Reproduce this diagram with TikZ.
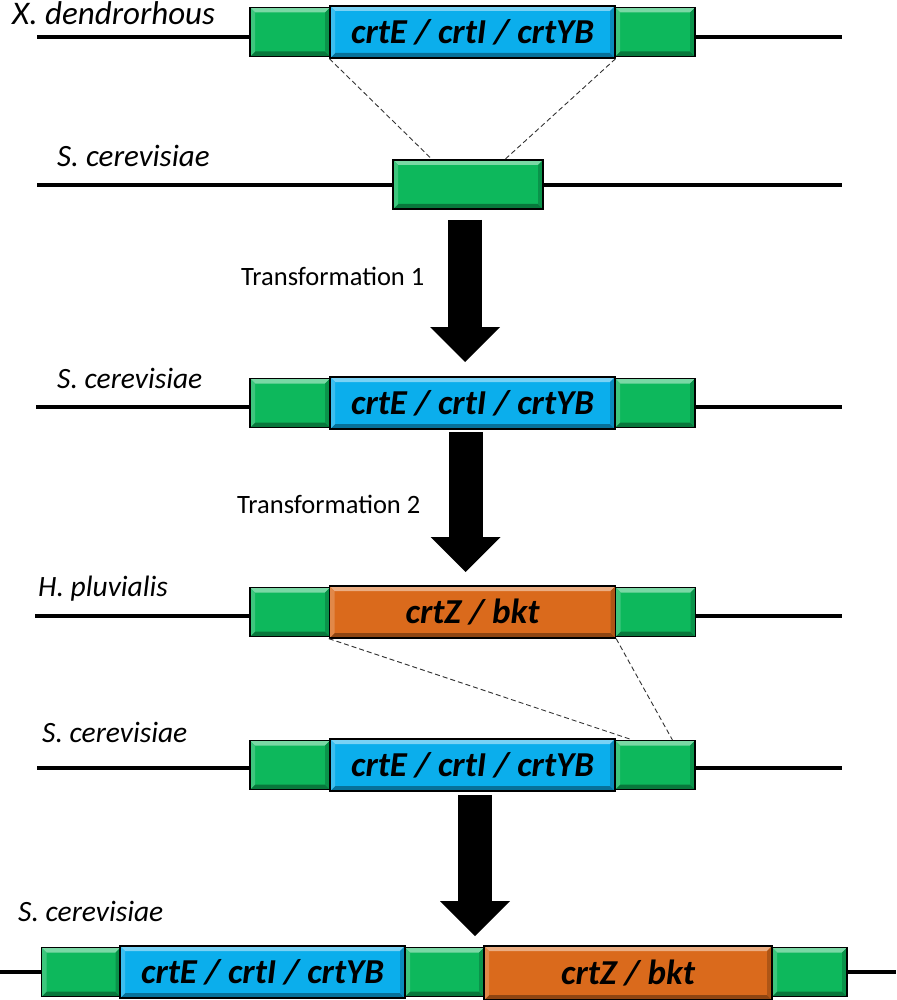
\documentclass[tikz,border=0pt]{standalone}
\usepackage{fontspec}
\setmainfont{Carlito}
\usetikzlibrary{arrows.meta}

\definecolor{armgreen}{HTML}{0DB85C}
\definecolor{crtblue}{HTML}{0BAEEC}
\definecolor{bktorange}{HTML}{DA6A1C}

\begin{document}
\begin{tikzpicture}[x=1pt, y=-1pt,
    box/.style={draw=black, line width=1.3pt, fill=#1, inner sep=0pt, minimum height=49pt,
      path picture={
        \fill[#1!55!white] (path picture bounding box.north west) -- (path picture bounding box.north east)
          -- ([shift={(-5pt,-5pt)}]path picture bounding box.north east) -- ([shift={(5pt,-5pt)}]path picture bounding box.north west) -- cycle;
        \fill[#1!65!black] (path picture bounding box.south west) -- (path picture bounding box.south east)
          -- ([shift={(-5pt,5pt)}]path picture bounding box.south east) -- ([shift={(5pt,5pt)}]path picture bounding box.south west) -- cycle;
        \fill[#1!80!black] (path picture bounding box.north east) -- (path picture bounding box.south east)
          -- ([shift={(-5pt,5pt)}]path picture bounding box.south east) -- ([shift={(-5pt,-5pt)}]path picture bounding box.north east) -- cycle;
        \fill[#1!80!white] (path picture bounding box.north west) -- (path picture bounding box.south west)
          -- ([shift={(5pt,5pt)}]path picture bounding box.south west) -- ([shift={(5pt,-5pt)}]path picture bounding box.north west) -- cycle;
      }},
    arm/.style={box=armgreen, minimum width=80pt},
    gene/.style={box=#1, minimum height=52pt, font=\fontsize{35}{40}\selectfont\bfseries\itshape},
    species/.style={anchor=base west, inner sep=0pt, font=\fontsize{29.5}{34}\selectfont\itshape},
    steplabel/.style={anchor=base west, inner sep=0pt, font=\fontsize{26.5}{30}\selectfont},
    chrom/.style={line width=3.5pt},
    homol/.style={line width=0.9pt, black!80, dash pattern=on 5pt off 3pt},
    bigarrow/.style={line width=34pt, -{Triangle[width=70pt, length=35pt, line width=0pt]}}
  ]
  \useasboundingbox (0,0) rectangle (896,1000);

  % X. dendrorhous
  \node[species, font=\fontsize{33}{38}\selectfont\itshape] (xdName) at (12,25) {X. dendrorhous};
  \coordinate (xdA) at (37,37);
  \coordinate (xdB) at (842,37);
  \draw[chrom] (xdA) -- (xdB);
  \node[arm] (xdL) at (290,32) {};
  \node[gene=crtblue, minimum width=285pt] (xdCrt) at (472.5,32) {crtE / crtI / crtYB};
  \node[arm] (xdR) at (655,32) {};

  % S. cerevisiae, target site
  \node[species, font=\fontsize{31}{36}\selectfont\itshape] (sc1Name) at (57,167) {S. cerevisiae};
  \coordinate (sc1A) at (37,185);
  \coordinate (sc1B) at (842,185);
  \draw[chrom] (sc1A) -- (sc1B);
  \node[arm, minimum width=150pt] (sc1) at (468,184.5) {};

  \draw[homol] (xdCrt.south west) -- ([xshift=-36pt]sc1.north);
  \draw[homol] (xdCrt.south east) -- ([xshift=37pt]sc1.north);

  % Transformation 1
  \node[steplabel] (tr1) at (241,285) {Transformation 1};
  \coordinate (tr1A) at (465,220);
  \coordinate (tr1B) at (465,362);
  \draw[bigarrow] (tr1A) -- (tr1B);

  % S. cerevisiae with crtE/crtI/crtYB
  \node[species] (sc2Name) at (57,388) {S. cerevisiae};
  \coordinate (sc2A) at (36,407);
  \coordinate (sc2B) at (842,407);
  \draw[chrom] (sc2A) -- (sc2B);
  \node[arm] (sc2L) at (290,403) {};
  \node[gene=crtblue, minimum width=285pt] (sc2Crt) at (472.5,403) {crtE / crtI / crtYB};
  \node[arm] (sc2R) at (655,403) {};

  % Transformation 2
  \node[steplabel] (tr2) at (237,513) {Transformation 2};
  \coordinate (tr2A) at (465.5,432);
  \coordinate (tr2B) at (465.5,572);
  \draw[bigarrow] (tr2A) -- (tr2B);

  % H. pluvialis
  \node[species] (hpName) at (38,596) {H. pluvialis};
  \coordinate (hpA) at (35,616);
  \coordinate (hpB) at (842,616);
  \draw[chrom] (hpA) -- (hpB);
  \node[arm] (hpL) at (290,612) {};
  \node[gene=bktorange, minimum width=286pt] (hpZ) at (472.5,612) {crtZ / bkt};
  \node[arm] (hpR) at (655.5,612) {};

  % S. cerevisiae, second target
  \node[species] (sc3Name) at (42,742) {S. cerevisiae};
  \coordinate (sc3A) at (37,768);
  \coordinate (sc3B) at (842,768);
  \draw[chrom] (sc3A) -- (sc3B);
  \node[arm] (sc3L) at (290,765) {};
  \node[gene=crtblue, minimum width=285pt] (sc3Crt) at (472.5,765) {crtE / crtI / crtYB};
  \node[arm] (sc3R) at (655,765) {};

  \draw[homol] (hpZ.south west) -- ([xshift=18pt]sc3R.north west);
  \draw[homol] (hpZ.south east) -- ([xshift=58pt]sc3R.north west);

  \coordinate (tr3A) at (475,795);
  \coordinate (tr3B) at (475,936);
  \draw[bigarrow] (tr3A) -- (tr3B);

  % final strain
  \node[species] (finName) at (18,921) {S. cerevisiae};
  \coordinate (finA) at (0,972);
  \coordinate (finB) at (896,972);
  \draw[chrom] (finA) -- (finB);
  \node[arm, minimum width=79pt] (finL) at (81,972) {};
  \node[gene=crtblue, minimum width=285pt] (finCrt) at (262.5,972) {crtE / crtI / crtYB};
  \node[arm, minimum width=79pt] (finM) at (444.5,972) {};
  \node[gene=bktorange, minimum width=288pt, minimum height=54pt] (finZ) at (628,973) {crtZ / bkt};
  \node[arm, minimum width=75pt] (finR) at (809.5,972) {};
\end{tikzpicture}
\end{document}
